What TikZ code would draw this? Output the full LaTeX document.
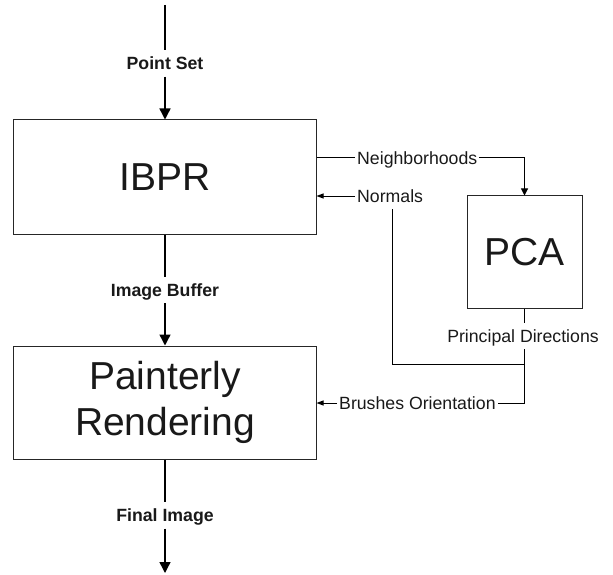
\documentclass[tikz,border=0pt]{standalone}
\usepackage{fontspec}
\setmainfont{Liberation Sans}
\usetikzlibrary{arrows.meta}

\begin{document}
\begin{tikzpicture}[x=1bp,y=-1bp,
	block/.style={draw=black!85,line width=1bp,inner sep=0pt,align=center,text=black!90,font=\fontsize{39bp}{46bp}\selectfont},
	flowlabel/.style={inner xsep=2bp,inner ysep=6.5bp,text height=12.7bp,text depth=0pt,text=black!90,font=\fontsize{17.7bp}{21bp}\selectfont},
	datalabel/.style={flowlabel,font=\fontsize{17.7bp}{21bp}\selectfont\bfseries},
	wire/.style={line width=1.4bp},
	thinwire/.style={line width=1bp},
	bigtip/.style={wire,-{Triangle[length=11bp,width=11bp]}},
	midtip/.style={thinwire,-{Triangle[length=7bp,width=7bp]}},
	smalltip/.style={thinwire,-{Triangle[length=7bp,width=5bp]}}]
	\useasboundingbox (0,0) rectangle (613,575);
	
	\node[block,minimum width=302bp,minimum height=114bp] (ibpr) at (165,177) {IBPR};
	\node[block,minimum width=302bp,minimum height=113bp] (paint) at (165,402.5) {Painterly\\Rendering};
	\node[block,minimum width=115bp,minimum height=112bp] (pca) at (524.5,252) {PCA};
	
	\node[datalabel] (pset) at (165,63.5) {Point Set};
	\node[datalabel] (ibuf) at (165,290) {Image Buffer};
	\node[datalabel] (fimg) at (165,515.5) {Final Image};
	\node[flowlabel,anchor=west] (nbh) at (355,158) {Neighborhoods\ };
	\node[flowlabel,anchor=west] (nrm) at (355,196) {Normals};
	\node[flowlabel] (pdir) at (523,336) {Principal Directions};
	\node[flowlabel,anchor=west] (bori) at (337,403) {Brushes Orientation\ };
	
	\coordinate (src) at (165,5);
	\coordinate (dst) at (165,573);
	\coordinate (jn) at (524.5,364);
	
	\draw[wire] (src) -- (pset);
	\draw[bigtip] (pset) -- (ibpr);
	\draw[wire] (ibpr) -- (ibuf);
	\draw[bigtip] (ibuf) -- (paint);
	\draw[wire] (paint) -- (fimg);
	\draw[bigtip] (fimg) -- (dst);
	
	\draw[thinwire] (nbh.west -| ibpr.east) -- (nbh.west);
	\draw[midtip] (nbh.east) -| (pca.north);
	\draw[smalltip] (nrm.west) -- (nrm.west -| ibpr.east);
	\draw[thinwire] ([xshift=2bp]nrm.south) |- (jn);
	\draw[thinwire] (pca.south) -- (pca.south |- pdir.north);
	\draw[thinwire] (pca.south |- pdir.south) -- (pca.south |- bori) -- (bori.east);
	\draw[smalltip] (bori.west) -- (bori.west -| paint.east);
\end{tikzpicture}
\end{document}
